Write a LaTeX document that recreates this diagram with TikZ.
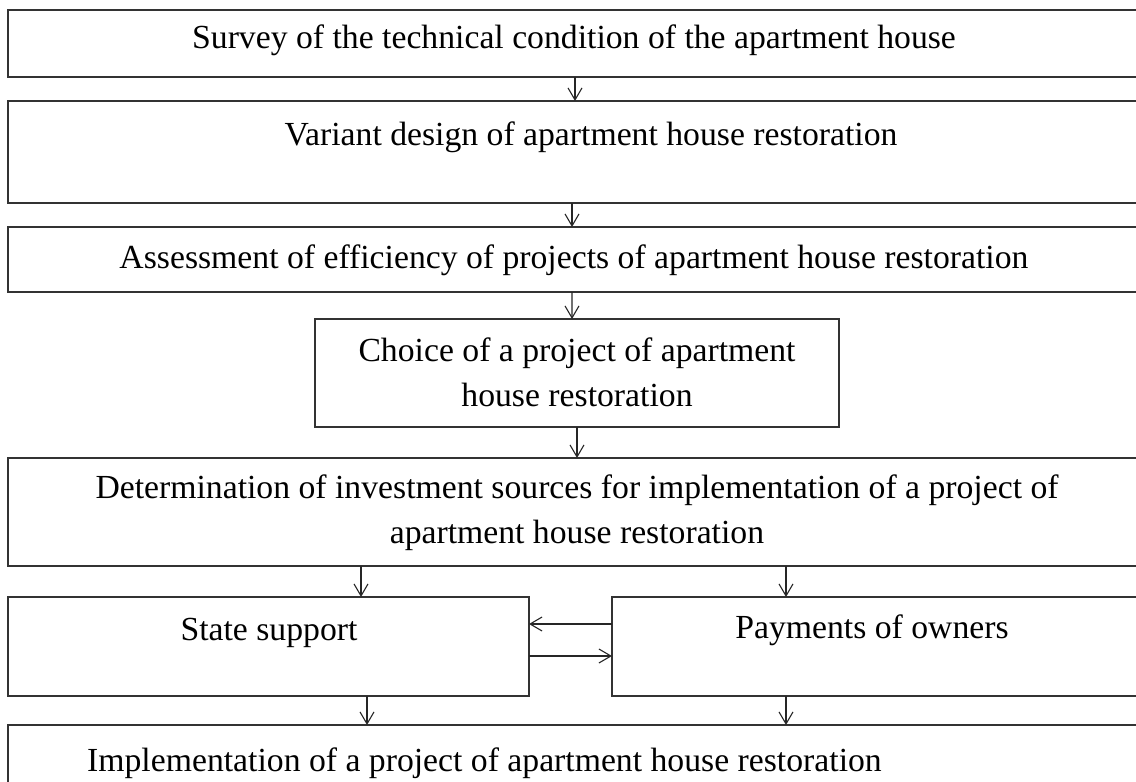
\documentclass[tikz,border=0pt]{standalone}
\usepackage{fontspec}
\setmainfont{Liberation Serif}
\usetikzlibrary{arrows.meta,calc}
\begin{document}
\begin{tikzpicture}[x=1bp,y=-1bp,
  box/.style={draw=black!80,line width=1.3bp,rectangle,inner sep=0pt,outer sep=0pt},
  txt/.style={inner sep=0pt,font=\fontsize{33.7bp}{45bp}\selectfont,align=center,anchor=base},
  arr/.style={draw=black!85,line width=1.1bp,-{Straight Barb[length=12bp,width=14bp]}}]
\useasboundingbox (0,0) rectangle (1136,782);
\fill[white] (0,0) rectangle (1136,782);
\clip (0,0) rectangle (1136,782);
% boxes
\node[box,minimum width=1134bp,minimum height=67bp]  (b1) at (575,43.5) {};
\node[box,minimum width=1134bp,minimum height=102bp] (b2) at (575,152) {};
\node[box,minimum width=1134bp,minimum height=65bp]  (b3) at (575,259.5) {};
\node[box,minimum width=524bp,minimum height=108bp]  (b4) at (577,373) {};
\node[box,minimum width=1134bp,minimum height=108bp] (b5) at (575,512) {};
\node[box,minimum width=521bp,minimum height=99bp]   (b6) at (268.5,646.5) {};
\node[box,minimum width=530bp,minimum height=99bp]   (b7) at (877,646.5) {};
\node[box,minimum width=1134bp,minimum height=105bp] (b8) at (575,777.5) {};
% texts
\node[txt] (t1) at (574,48.5) {Survey of the technical condition of the apartment house};
\node[txt] (t2) at (591,145) {Variant design of apartment house restoration};
\node[txt] (t3) at (574,268) {Assessment of efficiency of projects of apartment house restoration};
\node[txt] (t4) at (577,406) {Choice of a project of apartment\\house restoration};
\node[txt] (t5) at (577,543) {Determination of investment sources for implementation of a project of\\apartment house restoration};
\node[txt] (t6) at (269,640) {State support};
\node[txt] (t7) at (872,638) {Payments of owners};
\node[txt,anchor=base west] (t8) at (87,771) {Implementation of a project of apartment house restoration};
% connectors
\draw[arr] (b1.south) -- (b2.north);
\draw[arr] ([xshift=-3bp]b2.south) -- ([xshift=-3bp]b3.north);
\draw[arr] ([xshift=-3bp]b3.south) -- ([xshift=-5bp]b4.north);
\draw[arr] (b4.south) -- (b4.south |- b5.north);
\draw[arr] ([xshift=92.5bp]b6.north |- b5.south) -- ([xshift=92.5bp]b6.north);
\draw[arr] ([xshift=-91bp]b7.north |- b5.south) -- ([xshift=-91bp]b7.north);
\draw[arr] ([yshift=22.5bp]b7.west) -- ([yshift=22.5bp]b6.east);
\draw[arr] ([yshift=-9.5bp]b6.east) -- ([yshift=-9.5bp]b7.west);
\draw[arr] ([xshift=98.5bp]b6.south) -- ([xshift=98.5bp]b6.south |- b8.north);
\draw[arr] ([xshift=-91bp]b7.south) -- ([xshift=-91bp]b7.south |- b8.north);
\end{tikzpicture}
\end{document}
